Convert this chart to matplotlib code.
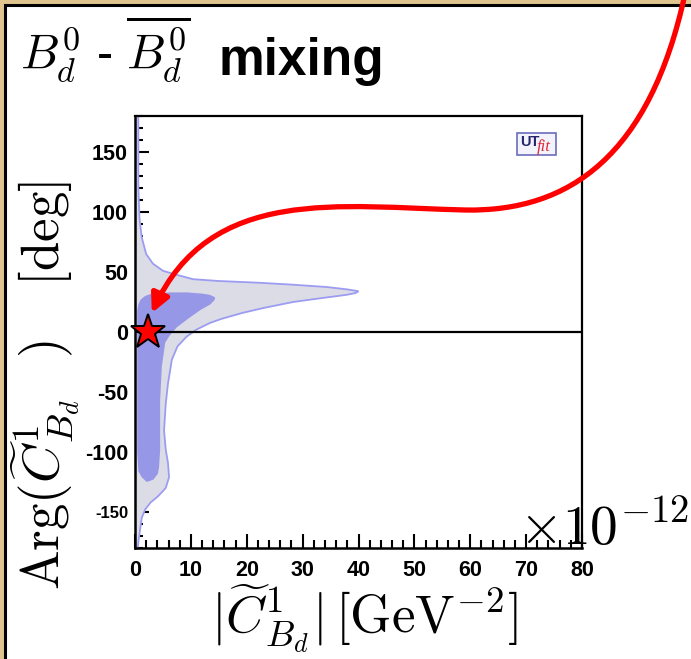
import matplotlib
matplotlib.use("Agg")
import matplotlib.pyplot as plt
from matplotlib.patches import Rectangle, FancyArrowPatch
from matplotlib.path import Path
from matplotlib.ticker import MultipleLocator

plt.rcParams["mathtext.fontset"] = "cm"
plt.rcParams["axes.unicode_minus"] = False

# 95% probability region boundary (|C| in 1e-12 GeV^-2, phase in degrees)
outer_x = [0, 0.6, 0.6, 0.8, 1.2, 2.0, 3.2, 5.0, 7.2, 10.4, 15.0, 22.4, 28.0,
           34.3, 38.0, 40.0, 39.5, 37.9, 33.0, 28.3, 23.0, 19.3, 15.5, 13.4,
           11.0, 9.2, 7.6, 6.6, 5.9, 5.5, 5.2, 5.5, 5.9, 6.1, 5.5, 4.1, 2.8,
           1.8, 1.2, 0.9, 0.6, 0.5, 0]
outer_y = [180, 180, 120, 95, 79, 65, 57, 51, 48, 44, 42.5, 41, 39.5,
           37.5, 35.5, 34, 32.5, 31, 28, 25, 20, 16, 11, 7.5,
           2, -4, -12, -23, -43, -60, -82, -98, -109, -121, -130, -137, -142,
           -148, -155, -165, -175, -180, -180]

# 68% probability region boundary
inner_x = [0.4, 0.6, 1.0, 1.8, 3.0, 6.3, 9.3, 12.0, 13.4, 14.3, 14.3, 13.5, 11.6,
           9.5, 7.5, 6.2, 5.4, 4.8, 4.5, 4.5, 4.3, 4.1, 3.3, 2.1, 1.2, 0.6,
           0.4, 0.4]
inner_y = [18, 23, 27, 30, 32, 33, 33, 32, 31, 29, 27, 23, 18,
           11, 4, -3, -9, -29, -57, -98, -113, -118, -123, -125, -121, -116,
           -100, 0]

# Standard Model expectation
sm_x = [2.3]
sm_y = [0.0]

x_ticks = [0, 10, 20, 30, 40, 50, 60, 70, 80]
y_ticks = [-150, -100, -50, 0, 50, 100, 150]

W, H = 691, 659
fig = plt.figure(figsize=(W / 100, H / 100), dpi=100)
fig.patch.set_facecolor("#e0c48e")

# white slide panel with black border
panel = Rectangle((5 / W, -0.02), 1.05, 1 - 5 / H + 0.02, transform=fig.transFigure,
                  facecolor="white", edgecolor="black", linewidth=2.2, zorder=0)
fig.add_artist(panel)

ax = fig.add_axes([135 / W, 1 - 548 / H, 447 / W, 432 / H])
ax.set_xlim(0, 80)
ax.set_ylim(-180, 180)

ax.fill(outer_x, outer_y, facecolor="#dcdce7", edgecolor="#9c9cf2", linewidth=1.3, zorder=2)
ax.fill(inner_x, inner_y, facecolor="#9797e8", edgecolor="none", zorder=3)
ax.axhline(0, color="black", linewidth=1.6, zorder=4)
ax.plot(sm_x, sm_y, marker="*", markersize=26, markerfacecolor="#ff0000",
        markeredgecolor="black", markeredgewidth=1.4, linestyle="none",
        clip_on=False, zorder=10)

for side in ["top", "right"]:
    ax.spines[side].set_linewidth(1.6)
for side in ["left", "bottom"]:
    ax.spines[side].set_linewidth(1.8)

ax.set_xticks(x_ticks)
ax.set_yticks(y_ticks)
ax.xaxis.set_minor_locator(MultipleLocator(2))
ax.yaxis.set_minor_locator(MultipleLocator(10))
ax.tick_params(which="both", direction="in", top=False, right=False, width=1.5)
ax.tick_params(which="major", length=10)
ax.tick_params(axis="x", which="major", pad=9)
ax.tick_params(axis="y", which="major", pad=5)
ax.tick_params(which="minor", length=5.5)
for lab in ax.get_xticklabels() + ax.get_yticklabels():
    lab.set_fontfamily("Liberation Sans")
    lab.set_fontweight("bold")
    lab.set_fontsize(15.5)
ax.get_yticklabels()[0].set_fontsize(12)

# UTfit logo
ax.add_patch(Rectangle((0.855, 0.91), 0.087, 0.05, transform=ax.transAxes,
                       facecolor="#f3f3fb", edgecolor="#6c6cc0", linewidth=1.2, zorder=5))
ax.text(0.861, 0.93, "UT", transform=ax.transAxes, ha="left", va="baseline",
        fontsize=10.5, fontweight="bold", color="#25256e", family="Liberation Sans", zorder=6)
ax.text(0.9, 0.918, "fit", transform=ax.transAxes, ha="left", va="baseline",
        fontsize=12, fontstyle="italic", color="#e0283a", family="Liberation Serif", zorder=6)

# exponent of the x axis
fig.text(519 / W, 1 - 545 / H, r"$\times10^{-12}$", fontsize=40, ha="left", va="baseline",
         zorder=20)

# axis titles
fig.text(364 / W, 1 - 618 / H, r"$|\widetilde{C}^{1}_{B_d}|\,[\mathrm{GeV}^{-2}]$",
         fontsize=38, ha="center", va="center")
fig.text(45 / W, 1 - 386 / H,
         r"$\mathrm{Arg}(\widetilde{C}^{1}_{B_d}\;\;\;)\;\;\;\;[\mathrm{deg}]$",
         fontsize=38, ha="center", va="center", rotation=90)

# slide title
fig.text(20 / W, 1 - 70 / H, r"$B^0_d$ - $\overline{B^0_d}$", fontsize=35,
         ha="left", va="baseline", family="Liberation Sans")
fig.text(218 / W, 1 - 75 / H, "mixing", fontsize=37, fontweight="bold",
         ha="left", va="baseline", family="Liberation Sans")

# red pointer ending at the SM point
fig.canvas.draw()
sx, sy = ax.transData.transform((sm_x[0], sm_y[0]))
end_px = (sx + 4, (H - sy) - 19)
pts_px = [(685, -6), (650, 155), (570, 212), (465, 210),
          (340, 207), (210, 185), end_px]
inv = fig.transFigure.inverted()
verts = [inv.transform((px, H - py)) for px, py in pts_px]
codes = [Path.MOVETO] + [Path.CURVE4] * 6
arrow = FancyArrowPatch(path=Path(verts, codes), transform=fig.transFigure,
                        arrowstyle="-|>,head_length=11,head_width=5.5",
                        color="#ff0000", linewidth=3.8, zorder=30)
fig.add_artist(arrow)

fig.savefig("out.png", dpi=100, facecolor=fig.get_facecolor())
